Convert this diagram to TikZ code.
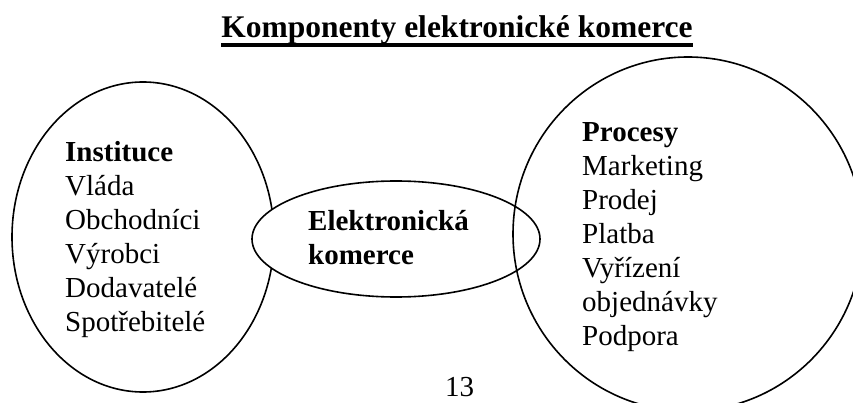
\documentclass[tikz,border=0pt]{standalone}
\usepackage{fontspec}
\setmainfont{Liberation Serif}
\usetikzlibrary{shapes.geometric}
\begin{document}
\begin{tikzpicture}[x=1pt,y=-1pt,
  ring/.style={draw, ellipse, line width=1.6pt, inner sep=0pt},
  body/.style={anchor=base west, inner sep=0pt, font=\fontsize{29}{34}\selectfont},
]
\useasboundingbox (0,0) rectangle (853,403);
% ellipses
\node[ring, minimum width=262pt, minimum height=310pt] (inst) at (143,237) {};
\node[ring, fill=white, minimum width=288pt, minimum height=116pt] (ecom) at (396,239) {};
\node[ring, minimum width=350pt, minimum height=354pt] (proc) at (688,234) {};
% title
\node[anchor=base, inner sep=0pt, font=\fontsize{31.5}{36}\selectfont\bfseries] (title) at (457,38) {Komponenty elektronické komerce};
\draw[line width=3.5pt] ([yshift=-7pt]title.base west) -- ([yshift=-7pt]title.base east);
% texts
\node[body] (insttext) at (65,162) {\begin{tabular}[t]{@{}l@{}}\textbf{Instituce}\\Vláda\\Obchodníci\\Výrobci\\Dodavatelé\\Spotřebitelé\end{tabular}};
\node[body] (ecomtext) at (308,230) {\begin{tabular}[t]{@{}l@{}}\textbf{Elektronická}\\\textbf{komerce}\end{tabular}};
\node[body] (proctext) at (582,142) {\begin{tabular}[t]{@{}l@{}}\textbf{Procesy}\\Marketing\\Prodej\\Platba\\Vyřízení\\objednávky\\Podpora\end{tabular}};
\node[anchor=base, inner sep=0pt, font=\fontsize{29}{34}\selectfont] (page) at (459.5,396) {13};
\end{tikzpicture}
\end{document}
